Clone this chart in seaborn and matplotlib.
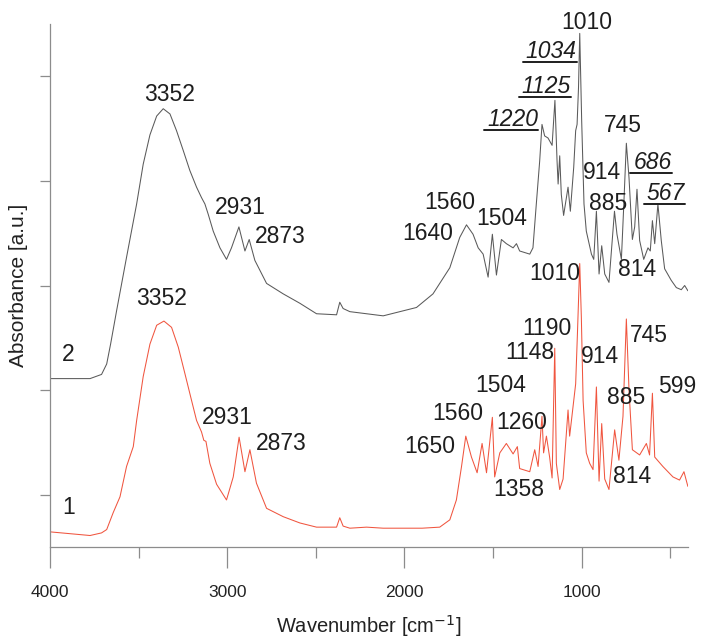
import numpy as np
import pandas as pd
import seaborn as sns
import matplotlib.pyplot as plt
from matplotlib.lines import Line2D
from matplotlib.ticker import MultipleLocator

# спектр 1 (красный): волновое число и поглощение
wn_1 = [4000, 3774, 3709, 3680, 3643, 3605, 3568, 3530, 3511, 3474, 3436, 3398,
        3357, 3314, 3276, 3239, 3201, 3173, 3145, 3132, 3120, 3098, 3060, 3004,
        2966, 2933, 2900, 2872, 2835, 2778, 2684, 2590, 2496, 2383, 2365, 2346,
        2308, 2214, 2120, 2026, 1900, 1801, 1744, 1707, 1678, 1654, 1622, 1590,
        1562, 1537, 1504, 1491, 1462, 1425, 1387, 1363, 1350, 1293, 1265, 1246,
        1224, 1215, 1199, 1181, 1167, 1152, 1143, 1124, 1105, 1077, 1068, 1053,
        1034, 1024, 1011, 1002, 992, 974, 955, 936, 917, 902, 887, 870, 846,
        814, 790, 767, 748, 733, 714, 673, 635, 617, 601, 588, 542, 485, 448,
        423, 401]
abs_1 = [0.645, 0.61, 0.635, 0.667, 0.83, 0.98, 1.27, 1.46, 1.71, 2.13, 2.44, 2.62,
         2.66, 2.60, 2.41, 2.16, 1.90, 1.71, 1.60, 1.52, 1.51, 1.30, 1.10, 0.95,
         1.17, 1.55, 1.22, 1.43, 1.11, 0.87, 0.79, 0.73, 0.69, 0.69, 0.78, 0.70,
         0.68, 0.69, 0.68, 0.68, 0.68, 0.69, 0.76, 0.95, 1.27, 1.56, 1.36, 1.21,
         1.49, 1.21, 1.74, 1.17, 1.40, 1.49, 1.39, 1.46, 1.25, 1.22, 1.43, 1.27,
         1.75, 1.40, 1.56, 1.36, 1.16, 2.40, 1.30, 1.05, 1.15, 1.81, 1.56, 1.78,
         2.06, 2.54, 3.21, 2.70, 1.90, 1.40, 1.30, 1.24, 2.03, 1.13, 1.68, 1.15,
         1.05, 1.62, 1.33, 1.75, 2.68, 2.00, 1.43, 1.38, 1.49, 1.38, 1.97, 1.36,
         1.27, 1.17, 1.14, 1.22, 1.08]

# спектр 2 (серый)
wn_2 = [4000, 3774, 3709, 3680, 3658, 3624, 3568, 3511, 3474, 3436, 3398, 3361,
        3323, 3286, 3248, 3211, 3173, 3145, 3126, 3107, 3079, 3041, 3004, 2976,
        2934, 2900, 2876, 2844, 2778, 2684, 2590, 2496, 2383, 2365, 2346, 2308,
        2214, 2120, 2026, 1932, 1839, 1744, 1688, 1650, 1613, 1584, 1556, 1528,
        1504, 1481, 1453, 1425, 1387, 1368, 1350, 1293, 1275, 1256, 1237, 1224,
        1209, 1190, 1167, 1151, 1139, 1133, 1124, 1115, 1102, 1077, 1064, 1045,
        1034, 1026, 1018, 1011, 1000, 987, 974, 945, 932, 917, 902, 887, 870,
        846, 815, 801, 776, 763, 748, 733, 714, 701, 688, 673, 650, 626, 613,
        601, 588, 570, 551, 532, 495, 466, 438, 419, 401]
abs_2 = [2.11, 2.11, 2.15, 2.25, 2.44, 2.76, 3.27, 3.78, 4.16, 4.44, 4.62, 4.69,
         4.64, 4.48, 4.29, 4.10, 3.94, 3.84, 3.78, 3.68, 3.52, 3.36, 3.25, 3.36,
         3.56, 3.33, 3.44, 3.24, 3.02, 2.92, 2.83, 2.73, 2.72, 2.84, 2.78, 2.75,
         2.73, 2.71, 2.75, 2.79, 2.92, 3.17, 3.46, 3.58, 3.49, 3.36, 3.30, 3.08,
         3.49, 3.10, 3.44, 3.40, 3.36, 3.40, 3.33, 3.30, 3.36, 3.78, 4.19, 4.54,
         4.43, 4.41, 4.34, 4.77, 4.19, 3.97, 4.24, 3.87, 3.67, 3.94, 3.71, 4.13,
         4.48, 4.54, 4.89, 5.41, 4.57, 3.78, 3.52, 3.30, 3.25, 3.71, 3.11, 3.38,
         3.11, 3.03, 3.71, 3.49, 3.25, 3.75, 4.36, 4.03, 3.44, 3.56, 3.92, 3.43,
         3.25, 3.36, 3.33, 3.62, 3.40, 3.78, 3.43, 3.16, 3.05, 2.98, 2.96, 3.00,
         2.95]

# подписи пиков: (текст, x, y, курсив с подчёркиванием)
labels_2 = [("3352", 3323, 4.83, False), ("2931", 2925, 3.75, False),
            ("2873", 2703, 3.47, False), ("1640", 1868, 3.50, False),
            ("1560", 1744, 3.79, False), ("1504", 1451, 3.64, False),
            ("1220", 1389, 4.59, True), ("1125", 1199, 4.90, True),
            ("1034", 1171, 5.24, True), ("1010", 974, 5.51, False),
            ("745", 769, 4.53, False), ("914", 887, 4.08, False),
            ("686", 600, 4.18, True), ("885", 853, 3.78, False),
            ("567", 526, 3.88, True), ("814", 690, 3.15, False),
            ("2", 3899, 2.34, False)]
labels_1 = [("3352", 3370, 2.88), ("2931", 2998, 1.74), ("2873", 2693, 1.49),
            ("1010", 1152, 3.11), ("1190", 1199, 2.59), ("1148", 1293, 2.36),
            ("914", 895, 2.32), ("745", 622, 2.52), ("1504", 1459, 2.04),
            ("885", 748, 1.93), ("599", 459, 2.03), ("1560", 1699, 1.78),
            ("1260", 1340, 1.69), ("1650", 1857, 1.46), ("1358", 1355, 1.05),
            ("814", 714, 1.17), ("1", 3893, 0.88)]

sns.set_style('ticks')
plt.rcParams['font.family'] = ['Liberation Sans', 'DejaVu Sans']

df1 = pd.DataFrame({'wn': wn_1, 'a': abs_1})
df2 = pd.DataFrame({'wn': wn_2, 'a': abs_2})

fig = plt.figure(figsize=(7.01, 6.38), dpi=100)
ax = fig.add_axes([0.0713, 0.1426, 0.9102, 0.8198])

sns.lineplot(data=df2, x='wn', y='a', ax=ax, color='#5a5a5a', linewidth=0.75,
             estimator=None)
sns.lineplot(data=df1, x='wn', y='a', ax=ax, color='#f0553f', linewidth=0.75,
             estimator=None)

ax.set_xlim(4000, 400)
ax.set_ylim(0.5, 5.5)
ax.xaxis.set_major_locator(MultipleLocator(1000))
ax.xaxis.set_minor_locator(MultipleLocator(500))
ax.set_yticks([1, 2, 3, 4, 5])
ax.set_yticklabels([])
sns.despine(ax=ax)
for s in ['left', 'bottom']:
    ax.spines[s].set_color('#8c8c8c')
    ax.spines[s].set_linewidth(0.9)
ax.tick_params(axis='x', which='major', length=15, width=0.9, color='#8c8c8c',
               pad=12, labelsize=12.5, labelcolor='#222222')
ax.tick_params(axis='x', which='minor', length=8, width=0.9, color='#8c8c8c')
ax.tick_params(axis='y', length=7, width=0.9, color='#8c8c8c')

ax.set_xlabel('Wavenumber [cm$^{-1}$]', fontsize=14.5, color='#222222', labelpad=10)
ax.set_ylabel('Absorbance [a.u.]', fontsize=15, color='#222222', labelpad=5)

italic_texts = []
for txt, x, y, ital in labels_2:
    t = ax.text(x, y, txt, fontsize=16.5, color='#1e1e1e', ha='center', va='center',
                style='italic' if ital else 'normal')
    if ital:
        italic_texts.append(t)
for txt, x, y in labels_1:
    ax.text(x, y, txt, fontsize=16.5, color='#1e1e1e', ha='center', va='center')

# подчёркивание курсивных подписей по их рамке
fig.canvas.draw()
renderer = fig.canvas.get_renderer()
inv = fig.transFigure.inverted()
for t in italic_texts:
    bb = t.get_window_extent(renderer)
    (x0, y0), (x1, _) = inv.transform([(bb.x0 - 3, bb.y0 + 1), (bb.x1, bb.y0 + 1)])
    fig.add_artist(Line2D([x0, x1], [y0, y0], transform=fig.transFigure,
                          color='#1e1e1e', linewidth=1.4))

fig.savefig('out.png', dpi=100)
